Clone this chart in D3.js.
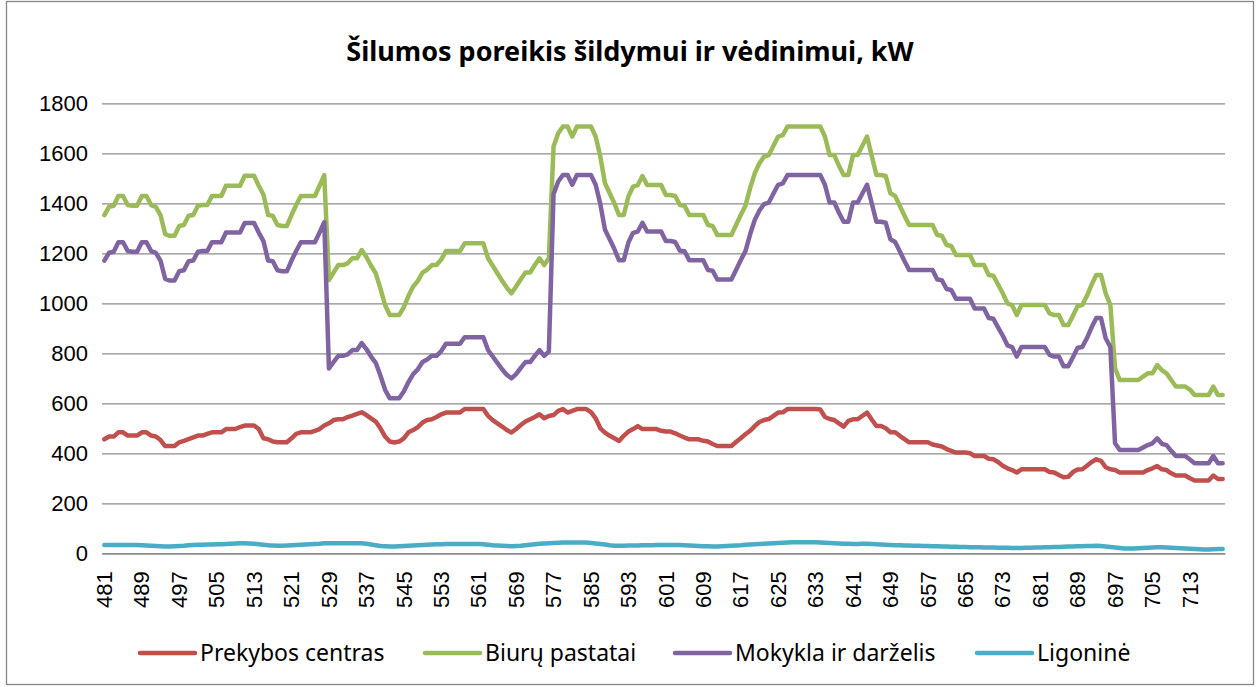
<!DOCTYPE html>
<html lang="lt">
<head>
<meta charset="UTF-8">
<title>Šilumos poreikis šildymui ir vėdinimui</title>
<script src="https://d3js.org/d3.v7.min.js"></script>
<style>
  body { margin: 0; background: #fff; }
  svg { display: block; font-family: "Noto Sans", sans-serif; }
</style>
</head>
<body>
<script>
// valandos 481..720
const hours = d3.range(481, 721);

const prekybos = [
  456, 467, 467, 484, 484, 471, 471, 471, 484, 484,
  471, 467, 453, 429, 429, 429, 444, 450, 457, 464,
  471, 471, 478, 484, 484, 484, 497, 497, 497, 505,
  511, 511, 511, 497, 460, 456, 447, 444, 444, 444,
  460, 478, 484, 484, 484, 490, 497, 511, 520, 533,
  536, 536, 545, 551, 558, 564, 553, 540, 527, 500,
  467, 447, 443, 447, 460, 484, 493, 505, 523, 533,
  536, 545, 556, 563, 563, 563, 563, 577, 577, 577,
  577, 577, 550, 533, 520, 507, 493, 483, 497, 513,
  527, 536, 545, 556, 540, 549, 553, 570, 577, 563,
  570, 577, 577, 577, 565, 540, 500, 483, 470, 460,
  449, 470, 487, 497, 509, 497, 497, 497, 497, 490,
  487, 487, 480, 471, 463, 456, 456, 456, 450, 447,
  437, 429, 429, 429, 429, 445, 460, 476, 490, 509,
  525, 533, 537, 550, 563, 564, 577, 577, 577, 577,
  577, 577, 577, 575, 545, 537, 533, 520, 507, 530,
  536, 536, 550, 563, 535, 509, 509, 500, 484, 484,
  470, 457, 444, 444, 444, 444, 444, 435, 431, 427,
  417, 410, 403, 403, 403, 400, 389, 389, 389, 378,
  376, 365, 350, 340, 333, 323, 336, 336, 336, 336,
  336, 336, 325, 323, 313, 304, 306, 325, 335, 336,
  350, 365, 376, 370, 344, 336, 333, 323, 323, 323,
  323, 323, 323, 333, 340, 349, 336, 333, 320, 311,
  311, 311, 300, 291, 291, 291, 291, 311, 297, 297
];

const biurai = [
  1353, 1386, 1390, 1429, 1429, 1393, 1390, 1390, 1429, 1429,
  1393, 1386, 1353, 1277, 1270, 1270, 1309, 1313, 1350, 1353,
  1390, 1393, 1393, 1429, 1429, 1429, 1470, 1470, 1470, 1470,
  1510, 1510, 1510, 1470, 1435, 1353, 1350, 1313, 1309, 1309,
  1353, 1393, 1429, 1429, 1429, 1429, 1470, 1513, 1093, 1123,
  1153, 1153, 1160, 1180, 1180, 1213, 1185, 1150, 1120, 1060,
  993, 953, 953, 953, 985, 1030, 1067, 1090, 1123, 1135,
  1153, 1153, 1175, 1209, 1209, 1209, 1209, 1240, 1240, 1240,
  1240, 1240, 1180, 1150, 1120, 1090, 1063, 1040, 1067, 1096,
  1123, 1123, 1153, 1180, 1153, 1180, 1627, 1680, 1707, 1707,
  1667, 1707, 1707, 1707, 1707, 1667, 1587, 1480, 1440, 1400,
  1353, 1353, 1427, 1467, 1473, 1509, 1473, 1473, 1473, 1473,
  1433, 1433, 1429, 1393, 1390, 1353, 1353, 1353, 1353, 1313,
  1309, 1273, 1273, 1273, 1273, 1313, 1353, 1390, 1460, 1520,
  1560, 1587, 1593, 1630, 1667, 1673, 1707, 1707, 1707, 1707,
  1707, 1707, 1707, 1707, 1667, 1593, 1593, 1550, 1513, 1513,
  1593, 1593, 1630, 1667, 1590, 1513, 1513, 1509, 1440, 1429,
  1390, 1350, 1313, 1313, 1313, 1313, 1313, 1313, 1273, 1270,
  1233, 1229, 1193, 1193, 1193, 1193, 1153, 1153, 1153, 1113,
  1110, 1075, 1040, 1000, 993, 953, 993, 993, 993, 993,
  993, 993, 960, 953, 953, 913, 913, 950, 989, 993,
  1030, 1075, 1113, 1113, 1040, 993, 740, 693, 693, 693,
  693, 693, 707, 720, 720, 753, 733, 720, 693, 667,
  667, 667, 655, 633, 633, 633, 633, 667, 633, 633
];

const mokykla = [
  1171, 1202, 1206, 1244, 1244, 1209, 1206, 1206, 1244, 1244,
  1209, 1202, 1171, 1098, 1091, 1091, 1128, 1132, 1168, 1171,
  1206, 1209, 1209, 1244, 1244, 1244, 1283, 1283, 1283, 1283,
  1321, 1321, 1321, 1283, 1249, 1171, 1168, 1132, 1128, 1128,
  1171, 1209, 1244, 1244, 1244, 1244, 1283, 1324, 739, 765,
  790, 790, 796, 813, 813, 841, 817, 787, 762, 711,
  654, 620, 620, 620, 647, 685, 717, 736, 765, 775,
  790, 790, 809, 838, 838, 838, 838, 864, 864, 864,
  864, 864, 813, 787, 762, 736, 714, 700, 717, 742,
  765, 765, 790, 813, 790, 807, 1436, 1487, 1513, 1513,
  1474, 1513, 1513, 1513, 1513, 1474, 1397, 1294, 1256, 1217,
  1172, 1172, 1243, 1282, 1287, 1322, 1287, 1287, 1287, 1287,
  1249, 1249, 1245, 1210, 1208, 1172, 1172, 1172, 1172, 1133,
  1130, 1095, 1095, 1095, 1095, 1133, 1172, 1208, 1275, 1333,
  1371, 1397, 1403, 1439, 1474, 1480, 1513, 1513, 1513, 1513,
  1513, 1513, 1513, 1513, 1474, 1403, 1403, 1362, 1326, 1326,
  1403, 1403, 1439, 1474, 1400, 1326, 1326, 1322, 1256, 1245,
  1208, 1169, 1133, 1133, 1133, 1133, 1133, 1133, 1095, 1092,
  1057, 1053, 1018, 1018, 1018, 1018, 979, 979, 979, 941,
  938, 904, 871, 832, 825, 787, 825, 825, 825, 825,
  825, 825, 794, 787, 787, 748, 748, 784, 822, 825,
  861, 904, 941, 941, 860, 825, 440, 413, 413, 413,
  413, 413, 423, 433, 440, 460, 438, 433, 410, 389,
  389, 389, 375, 360, 360, 360, 360, 389, 360, 360
];

const ligonine = [
  33, 33, 33, 33, 33, 33, 33, 33, 32, 31,
  30, 29, 28, 27, 27, 28, 29, 30, 32, 33,
  34, 34, 35, 35, 36, 36, 37, 38, 39, 40,
  40, 39, 38, 36, 34, 32, 31, 30, 30, 31,
  32, 33, 34, 35, 36, 37, 38, 40, 40, 40,
  40, 40, 40, 40, 40, 40, 38, 35, 32, 29,
  28, 27, 27, 28, 29, 30, 31, 32, 33, 34,
  35, 36, 36, 37, 37, 37, 37, 37, 37, 37,
  37, 36, 34, 32, 31, 30, 29, 28, 29, 30,
  32, 34, 36, 38, 39, 40, 41, 42, 43, 43,
  43, 43, 43, 43, 41, 39, 37, 35, 32, 30,
  30, 30, 31, 31, 31, 32, 32, 32, 33, 33,
  33, 33, 33, 33, 32, 31, 30, 29, 28, 28,
  27, 27, 28, 29, 30, 31, 32, 34, 35, 36,
  37, 38, 39, 40, 41, 42, 43, 44, 44, 44,
  44, 44, 44, 43, 42, 41, 40, 39, 38, 38,
  37, 37, 38, 38, 37, 36, 35, 34, 33, 32,
  32, 31, 31, 30, 30, 29, 29, 28, 28, 27,
  27, 26, 26, 25, 25, 24, 24, 24, 23, 23,
  23, 22, 22, 22, 21, 21, 21, 22, 22, 23,
  23, 24, 24, 25, 25, 26, 27, 27, 28, 28,
  29, 29, 30, 29, 27, 25, 23, 21, 19, 19,
  19, 20, 21, 22, 23, 24, 24, 23, 22, 21,
  20, 19, 18, 17, 16, 15, 15, 16, 17, 17
];

const seriesNames = ["Prekybos centras", "Biurų pastatai", "Mokykla ir darželis", "Ligoninė"];
const seriesColors = ["#C0504D", "#9BBB59", "#8064A2", "#4BACC6"];
const yTicks = [0, 200, 400, 600, 800, 1000, 1200, 1400, 1600, 1800];
const xTickLabels = [481, 489, 497, 505, 513, 521, 529, 537, 545, 553, 561, 569, 577, 585,
                     593, 601, 609, 617, 625, 633, 641, 649, 657, 665, 673, 681, 689, 697, 705, 713];

const w = 1258;
const h = 687;
const plotLeft = 102, plotRight = 1225, plotTop = 103.3, plotBottom = 553.3;

const svg = d3.select("body")
    .append("svg")
    .attr("width", w)
    .attr("height", h);

// chart area border
svg.append("rect")
    .attr("x", 6.5).attr("y", 1.5)
    .attr("width", 1247).attr("height", 683)
    .attr("fill", "#fff")
    .attr("stroke", "#868686")
    .attr("stroke-width", 1.3);

const xScale = d3.scaleBand()
    .domain(hours)
    .range([plotLeft, plotRight]);
const bw = xScale.bandwidth();

const yScale = d3.scaleLinear()
    .domain([0, 1800])
    .range([plotBottom, plotTop]);

// y axis with grid
const yAxis = d3.axisLeft(yScale)
    .tickValues(yTicks)
    .tickFormat(d3.format("d"))
    .tickSize(-(plotRight - plotLeft))
    .tickPadding(14);
const gy = svg.append("g")
    .attr("transform", "translate(" + plotLeft + ",0)")
    .call(yAxis);
gy.select(".domain").remove();
gy.selectAll(".tick line")
    .attr("stroke", "#8c8c8c")
    .attr("stroke-width", 1.3);
gy.selectAll(".tick text")
    .attr("fill", "#000")
    .style("font-size", "22px");

// x axis
const xAxis = d3.axisBottom(xScale)
    .tickValues(xTickLabels)
    .tickSize(0)
    .tickSizeOuter(0);
const gx = svg.append("g")
    .attr("transform", "translate(0," + plotBottom + ")")
    .call(xAxis);
gx.select(".domain")
    .attr("stroke", "#8c8c8c")
    .attr("stroke-width", 1.5);
gx.selectAll(".tick text")
    .attr("fill", "#000")
    .style("font-size", "22px")
    .attr("transform", "rotate(-90)")
    .attr("text-anchor", "end")
    .attr("x", -18)
    .attr("y", 0)
    .attr("dy", "0.35em");

// lines
const allSeries = [prekybos, biurai, mokykla, ligonine];
const line = d3.line()
    .x((d, i) => xScale(hours[i]) + bw / 2)
    .y(d => yScale(d));

svg.append("g")
    .selectAll("path")
    .data(allSeries)
    .join("path")
    .attr("d", d => line(d))
    .attr("fill", "none")
    .attr("stroke", (d, i) => seriesColors[i])
    .attr("stroke-width", 4.5)
    .attr("stroke-linejoin", "round")
    .attr("stroke-linecap", "round");

// title
svg.append("text")
    .attr("x", 630)
    .attr("y", 61)
    .attr("text-anchor", "middle")
    .style("font-size", "27px")
    .style("font-weight", "bold")
    .text("Šilumos poreikis šildymui ir vėdinimui, kW");

// legend
const legendX = [140, 425, 675, 977];
const legend = svg.append("g")
    .selectAll("g")
    .data(seriesNames)
    .join("g")
    .attr("transform", (d, i) => "translate(" + legendX[i] + ",653)");
legend.append("line")
    .attr("x1", 0).attr("x2", 55)
    .attr("stroke", (d, i) => seriesColors[i])
    .attr("stroke-width", 4.5)
    .attr("stroke-linecap", "round");
legend.append("text")
    .attr("x", 60)
    .attr("dy", "0.35em")
    .style("font-size", "23px")
    .text(d => d);
</script>
</body>
</html>
